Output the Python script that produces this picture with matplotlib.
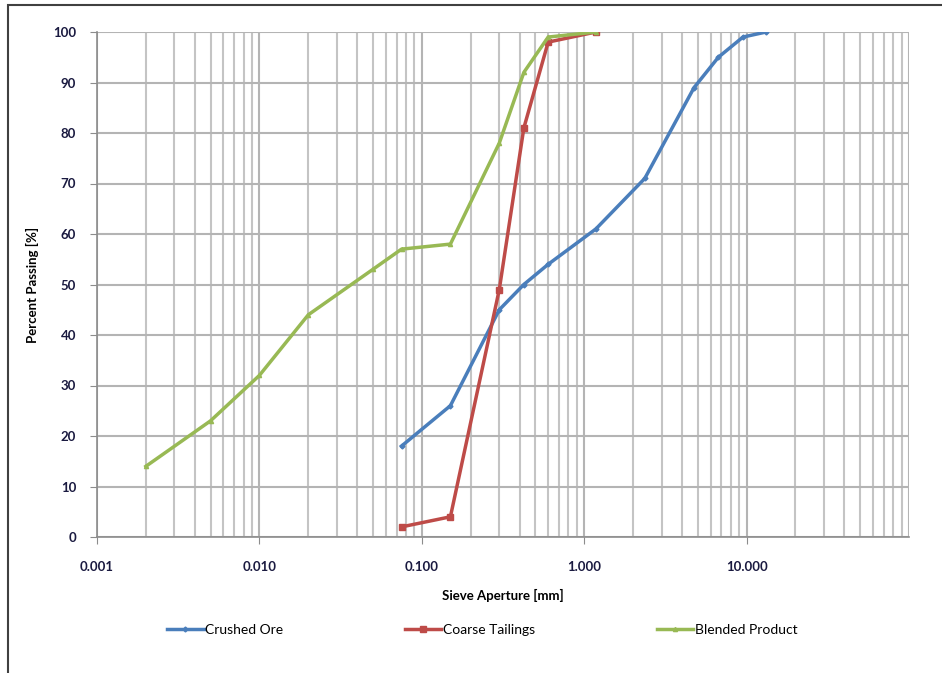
import numpy as np
import matplotlib.pyplot as plt
from matplotlib.patches import Rectangle
from matplotlib.ticker import FixedLocator, LogLocator, NullFormatter

plt.rcParams['font.family'] = ['Lato', 'DejaVu Sans']

# sieve sizes [mm] and percent passing
crushed_x = [0.075, 0.15, 0.3, 0.425, 0.6, 1.18, 2.36, 4.75, 6.7, 9.5, 13.2]
crushed_y = [18, 26, 45, 50, 54, 61, 71, 89, 95, 99, 100]

tailings_x = [0.075, 0.15, 0.3, 0.425, 0.6, 1.18]
tailings_y = [2, 4, 49, 81, 98, 100]

blended_x = [0.002, 0.005, 0.01, 0.02, 0.05, 0.075, 0.15, 0.3, 0.425, 0.6, 1.18]
blended_y = [14, 23, 32, 44, 53, 57, 58, 78, 92, 99, 100]

x_ticks = [0.001, 0.01, 0.1, 1, 10, 100]
x_labels = ['0.001', '0.010', '0.100', '1.000', '10.000', '']
y_ticks = list(range(0, 101, 10))

fig = plt.figure(figsize=(9.42, 6.73), dpi=100)
# outer chart border (only left/top visible in the original)
fig.patches.append(Rectangle((8 / 942, -0.05), 1.2, 1 - 5 / 673 + 0.05,
                             transform=fig.transFigure, fill=False,
                             edgecolor='#404040', linewidth=1.5))

ax = fig.add_axes([97 / 942, 1 - 537 / 673, (909 - 97) / 942, (537 - 32) / 673])

ax.plot(crushed_x, crushed_y, color='#4a7ebb', lw=2.5, marker='D', ms=2.5,
        label='Crushed Ore')
ax.plot(tailings_x, tailings_y, color='#be4b48', lw=2.5, marker='s', ms=4.5,
        label='Coarse Tailings')
ax.plot(blended_x, blended_y, color='#98b954', lw=2.5, marker='^', ms=3,
        label='Blended Product')

ax.set_xscale('log')
ax.set_xlim(0.001, 100)
ax.set_ylim(0, 100)

ax.xaxis.set_major_locator(FixedLocator(x_ticks))
ax.set_xticklabels(x_labels)
ax.xaxis.set_minor_locator(LogLocator(base=10, subs=np.arange(2, 10)))
ax.xaxis.set_minor_formatter(NullFormatter())
ax.set_yticks(y_ticks)

ax.grid(True, which='major', color='#b4b4b4', lw=1.5)
ax.grid(True, which='minor', axis='x', color='#c4c4c4', lw=1.5)
ax.set_axisbelow(True)

for s in ['top', 'right']:
    ax.spines[s].set_visible(False)
for s in ['left', 'bottom']:
    ax.spines[s].set_color('#8c8c8c')
    ax.spines[s].set_linewidth(1.2)

ax.tick_params(axis='both', which='major', direction='out', length=5,
               color='#8c8c8c', labelsize=9.5, labelcolor='#1a1a40')
ax.tick_params(axis='x', which='minor', length=0)
ax.tick_params(axis='x', pad=12)
ax.tick_params(axis='y', pad=10)
ax.xaxis.get_major_ticks()[-1].tick1line.set_visible(False)
for lbl in ax.get_xticklabels() + ax.get_yticklabels():
    lbl.set_fontweight('bold')

ax.set_xlabel('Sieve Aperture [mm]', fontsize=9.5, fontweight='bold', labelpad=12)
ax.set_ylabel('Percent Passing [%]', fontsize=9.5, fontweight='bold', labelpad=10)

fig.legend(loc='center', bbox_to_anchor=(0.512, 0.064), ncol=3, frameon=False,
           fontsize=10, handlelength=2.6, handletextpad=0.1, columnspacing=8.8)

fig.savefig('out.png', dpi=100)
